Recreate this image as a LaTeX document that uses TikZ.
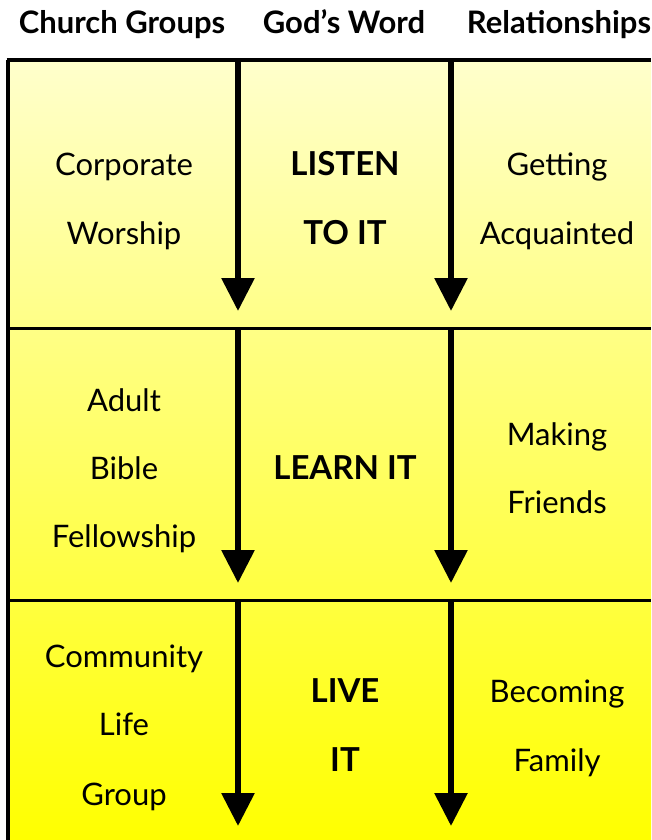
\documentclass[tikz,border=0pt]{standalone}
\usepackage{fontspec}
\setmainfont{Lato}
\usetikzlibrary{arrows.meta}

\definecolor{palecell}{RGB}{255,255,204}
\definecolor{deepcell}{RGB}{255,255,0}

\tikzset{
  head/.style={anchor=base, font=\fontsize{31}{34}\selectfont\bfseries},
  cell/.style={anchor=base, font=\fontsize{31}{34}\selectfont},
  keycell/.style={anchor=base, font=\fontsize{33}{37}\selectfont\bfseries},
  flow/.style={line width=6pt, -{Triangle[width=32pt,length=33pt]}}
}

\begin{document}
\begin{tikzpicture}[x=1pt, y=-1pt]
\useasboundingbox (0,0) rectangle (651,840);

\shade [top color=palecell, bottom color=deepcell] (8,60) rectangle (651,840);

\begin{scope}[line width=3.5pt]
\draw (6.5,60) -- (651,60);
\draw (8,60) -- (8,840);
\end{scope}

\begin{scope}[line width=3pt]
\draw (8,328) -- (651,328);
\draw (8,600) -- (651,600);
\end{scope}

\node[head] (h1) at (122,34) {Church Groups};
\node[head] (h2) at (344,34) {God’s Word};
\node[head] (h3) at (559,34) {Relationships};

\node[cell] (a1) at (124,175) {Corporate};
\node[cell] (a2) at (124,244) {Worship};
\node[keycell] (b1) at (345,175) {LISTEN};
\node[keycell] (b2) at (345,244) {TO IT};
\node[cell] (c1) at (557,175) {Getting};
\node[cell] (c2) at (557,244) {Acquainted};

\node[cell] (a3) at (124,411) {Adult};
\node[cell] (a4) at (124,479) {Bible};
\node[cell] (a5) at (124,547) {Fellowship};
\node[keycell] (b3) at (345,479) {LEARN IT};
\node[cell] (c3) at (557,445) {Making};
\node[cell] (c4) at (557,513) {Friends};

\node[cell] (a6) at (124,667) {Community};
\node[cell] (a7) at (124,735) {Life};
\node[cell] (a8) at (124,805) {Group};
\node[keycell] (b4) at (345,702) {LIVE};
\node[keycell] (b5) at (345,771) {IT};
\node[cell] (c5) at (557,702) {Becoming};
\node[cell] (c6) at (557,771) {Family};

\coordinate (p0) at (238,60);  \coordinate (q0) at (451,60);
\coordinate (p1) at (238,311); \coordinate (q1) at (451,311);
\coordinate (p2) at (238,328); \coordinate (q2) at (451,328);
\coordinate (p3) at (238,583); \coordinate (q3) at (451,583);
\coordinate (p4) at (238,600); \coordinate (q4) at (451,600);
\coordinate (p5) at (238,826); \coordinate (q5) at (451,826);

\begin{scope}[flow]
\draw (p0) -- (p1); %listen
\draw (q0) -- (q1);
\draw (p2) -- (p3); %learn
\draw (q2) -- (q3);
\draw (p4) -- (p5); %live
\draw (q4) -- (q5);
\end{scope}

\end{tikzpicture}
\end{document}
